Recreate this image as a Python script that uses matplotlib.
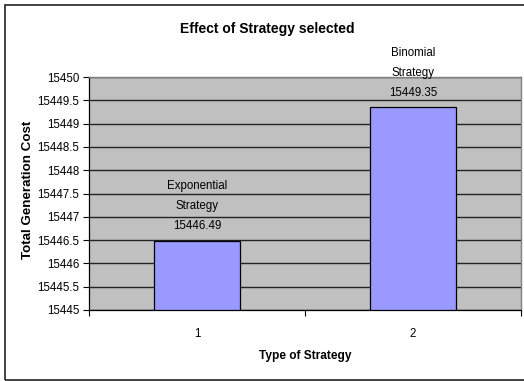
import matplotlib
matplotlib.use("Agg")
import matplotlib.pyplot as plt
from matplotlib.patches import Rectangle
import numpy as np

plt.rcParams['font.family'] = ['Liberation Sans', 'DejaVu Sans']

# Data
categories = ["1", "2"]
strategy_names = ["Exponential\nStrategy", "Binomial\nStrategy"]
costs = [15446.49, 15449.35]
y_min, y_max = 15445, 15450

W, H = 524, 381
fig = plt.figure(figsize=(W / 100, H / 100), dpi=100)
fig.patch.set_facecolor("white")

# Outer chart frame
fig.patches.append(Rectangle((5 / W, 1 - 380 / H), 530 / W, 375 / H,
                             transform=fig.transFigure, fill=False,
                             edgecolor="#222222", linewidth=1.2, clip_on=False))

left, right, top, bottom = 89, 521, 77, 310
ax = fig.add_axes([left / W, 1 - bottom / H, (right - left) / W, (bottom - top) / H])
ax.set_facecolor("#C0C0C0")

x = np.arange(1, len(costs) + 1)
heights = [c - y_min for c in costs]
bars = ax.bar(x, heights, bottom=y_min, width=0.4, color="#9999FF",
              edgecolor="black", linewidth=0.9, zorder=3)

ax.set_xlim(0.5, len(costs) + 0.5)
ax.set_ylim(y_min, y_max)

yt = np.arange(y_min, y_max + 0.01, 0.5)
ax.set_yticks(yt)
ax.set_yticklabels([f"{v:g}" for v in yt], fontsize=8.3)
ax.yaxis.grid(True, color="#222222", linewidth=1.0, zorder=1)
ax.set_axisbelow(True)

ax.set_xticks(x)
ax.set_xticklabels(categories, fontsize=8.3)
ax.tick_params(axis="x", which="major", length=0, pad=13)
ax.set_xticks(np.arange(0.5, len(costs) + 1, 1.0), minor=True)
ax.tick_params(axis="x", which="minor", length=4, width=0.8, direction="out", color="black")
ax.tick_params(axis="y", length=4, width=0.8, direction="out", pad=3, color="black")

for s in ["top", "right"]:
    ax.spines[s].set_color("#808080")
    ax.spines[s].set_linewidth(1.0)
for s in ["left", "bottom"]:
    ax.spines[s].set_color("black")
    ax.spines[s].set_linewidth(0.9)

for name, c, xi in zip(strategy_names, costs, x):
    ax.annotate(f"{name}\n{c:.2f}", xy=(xi, c), xytext=(0, 6),
                textcoords="offset points", ha="center", va="bottom",
                fontsize=8.3, linespacing=1.9, zorder=4, annotation_clip=False)

fig.text(267 / W, 1 - 29 / H, "Effect of Strategy selected", ha="center",
         va="center", fontsize=10, fontweight="bold")
fig.text(305 / W, 1 - 356 / H, "Type of Strategy", ha="center", va="center",
         fontsize=8.6, fontweight="bold")
fig.text(28 / W, 1 - 190 / H, "Total Generation Cost", ha="center", va="center",
         rotation=90, fontsize=9.6, fontweight="bold")

fig.savefig("out.png", dpi=100)
